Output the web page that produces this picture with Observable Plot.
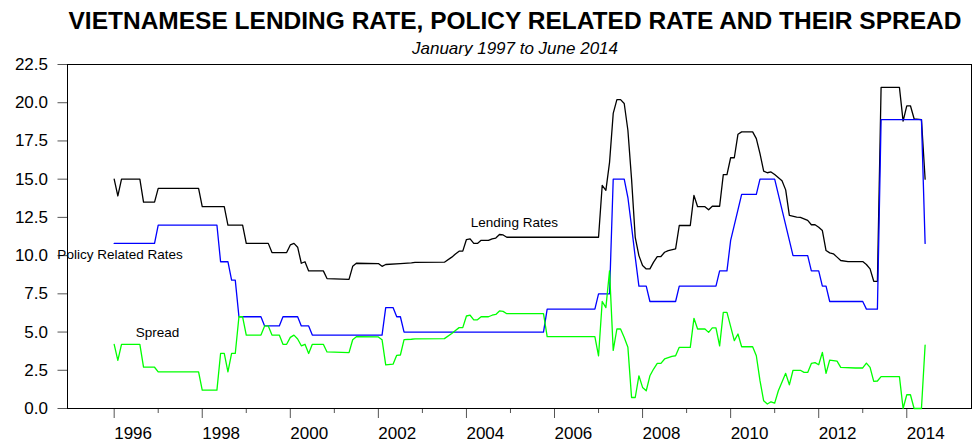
<!DOCTYPE html>
<html>
<head>
<meta charset="utf-8">
<script src="https://cdn.jsdelivr.net/npm/d3@7"></script>
<script src="https://cdn.jsdelivr.net/npm/@observablehq/plot@0.6"></script>
<style>
  body { margin: 0; background: #fff; }
  #wrap { position: relative; width: 972px; height: 442px; font-family: "Liberation Sans", Arial, sans-serif; }
  #title { position: absolute; left: 515px; top: 7px; transform: translateX(-50%); white-space: nowrap; font-weight: bold; font-size: 24.5px; color: #000; }
  #subtitle { position: absolute; left: 515px; top: 39px; transform: translateX(-50%); white-space: nowrap; font-style: italic; font-size: 17px; color: #000; }
  #chart { position: absolute; left: 0; top: 56px; }
</style>
</head>
<body>
<div id="wrap">
  <div id="title">VIETNAMESE LENDING RATE, POLICY RELATED RATE AND THEIR SPREAD</div>
  <div id="subtitle">January 1997 to June 2014</div>
  <div id="chart"></div>
</div>
<script>
// Month index (0 = January 1996 on the axis) and values
const lendingMonths = [0,1,2,7,8,11,12,23,24,30,31,35,36,42,43,47,48,49,50,51,52,53,57,58,64,65,66,72,73,74,78,81,82,90,92,93,94,95,96,97,98,99,100,102,103,104,105,106,107,132,133,134,135,136,137,138,139,140,141,142,143,144,145,146,147,148,149,150,151,153,154,157,158,159,161,162,163,165,166,167,168,169,170,171,174,175,176,177,178,179,180,182,183,184,186,187,189,190,191,192,193,194,195,196,197,198,200,204,205,206,207,208,209,214,215,216,217,218,220,221];
const lendingValues = [15.0,13.9,15.0,15.0,13.5,13.5,14.4,14.4,13.2,13.2,12.0,12.0,10.8,10.8,10.2,10.2,10.7,10.8,10.55,9.5,9.6,9.0,9.0,8.5,8.45,9.3,9.5,9.48,9.3,9.42,9.48,9.53,9.56,9.57,9.9,10.1,10.29,10.29,11.05,11.1,10.8,10.8,11.0,11.0,11.1,11.15,11.38,11.35,11.2,11.2,14.6,14.27,16.1,19.3,20.2,20.2,19.95,18.2,15.0,11.2,10.0,9.35,9.13,9.13,9.57,9.94,9.94,10.22,10.33,10.44,11.97,11.97,13.94,13.2,13.2,13.0,13.23,13.23,15.3,15.3,16.4,16.4,17.94,18.09,18.09,17.65,16.67,15.53,15.42,15.47,15.3,14.9,14.3,12.63,12.52,12.5,12.3,12.02,12.02,11.86,11.64,10.33,10.18,10.12,9.9,9.68,9.61,9.61,9.42,9.13,8.32,8.32,21.0,21.0,18.8,19.8,19.8,18.95,18.9,15.0];

const policyMonths = [0,11,12,28,29,31,32,33,34,40,41,45,46,50,51,53,54,73,74,76,77,78,79,117,118,131,132,135,136,139,140,141,142,143,145,146,153,154,164,165,167,168,169,171,175,176,180,185,189,190,192,193,194,195,204,205,208,209,220,221];
const policyValues = [10.8,10.8,12.0,12.0,9.6,9.6,8.4,8.4,6.0,6.0,5.4,5.4,6.0,6.0,5.4,5.4,4.8,4.8,6.6,6.6,6.0,6.0,5.0,5.0,6.5,6.5,7.5,7.5,15.0,15.0,13.8,11.9,9.9,8.0,8.0,7.0,7.0,8.0,8.0,9.0,9.0,11.0,12.0,14.0,14.0,15.0,15.0,10.0,10.0,9.0,9.0,8.0,8.0,7.0,7.0,6.5,6.5,18.9,18.9,10.8];

const spreadMonths = [0,1,2,7,8,11,12,23,24,28,29,30,31,32,33,34,35,36,40,41,42,43,45,46,47,48,49,50,51,52,53,54,57,58,64,65,66,72,73,74,76,77,78,79,81,82,90,92,93,94,95,96,97,98,99,100,102,103,104,105,106,107,117,118,131,132,133,134,135,136,137,138,139,140,141,142,143,144,145,146,147,148,149,150,152,153,154,157,158,159,161,162,163,164,165,166,167,169,170,171,174,175,176,177,178,179,180,181,183,184,185,187,188,189,190,191,192,193,194,195,197,198,202,204,205,206,207,208,209,214,215,216,217,218,220,221];
const spreadValues = [4.2,3.15,4.2,4.2,2.7,2.7,2.4,2.4,1.2,1.2,3.6,3.6,2.4,3.6,3.6,6.0,6.0,4.8,4.8,5.4,5.4,4.8,4.8,4.2,4.2,4.65,4.8,4.55,4.1,4.2,3.6,4.2,4.2,3.7,3.65,4.5,4.7,4.68,4.5,2.85,2.9,3.48,3.5,4.5,4.53,4.56,4.57,4.9,5.1,5.29,5.29,6.05,6.1,5.8,5.8,6.0,6.0,6.1,6.15,6.38,6.35,6.2,6.2,4.7,4.7,3.45,7.0,6.6,9.0,3.8,5.2,5.2,4.65,4.0,0.72,0.72,2.14,1.38,1.16,2.14,2.58,2.95,2.95,3.24,3.41,3.45,4.0,4.0,5.9,5.2,5.2,4.98,5.27,5.27,4.1,6.29,6.29,4.44,4.87,4.04,4.04,3.45,1.82,0.5,0.29,0.44,0.35,1.16,2.3,1.55,2.5,2.5,2.36,2.36,2.95,3.0,2.86,3.67,2.3,3.17,3.1,2.69,2.65,2.65,2.97,2.69,1.77,1.8,2.08,2.08,0.0,0.9,0.9,0.0,0.0,4.15];

const yTicks = [0, 2.5, 5, 7.5, 10, 12.5, 15, 17.5, 20, 22.5];
const majorYears = [1996, 1998, 2000, 2002, 2004, 2006, 2008, 2010, 2012, 2014];
const minorYears = [1997, 1999, 2001, 2003, 2005, 2007, 2009, 2011, 2013];
const seriesLabels = ["Lending Rates", "Policy Related Rates", "Spread"];

const startYear = 1996;
const toRows = (months, values) => months.map((m, i) => ({x: startYear + m / 12, y: values[i]}));
const lending = toRows(lendingMonths, lendingValues);
const policy = toRows(policyMonths, policyValues);
const spread = toRows(spreadMonths, spreadValues);

const chart = Plot.plot({
  width: 972,
  height: 386,
  marginTop: 8,
  marginBottom: 34,
  marginLeft: 67,
  marginRight: 1,
  style: {fontFamily: "'Liberation Sans', Arial, sans-serif", fontSize: "17px", color: "#000", background: "#fff"},
  x: {domain: [1994.94, 2015.47]},
  y: {domain: [0, 22.5]},
  marks: [
    Plot.axisY({ticks: yTicks, tickSize: 9.5, tickPadding: 10, tickFormat: d3.format(".1f"), label: null, stroke: "#555", fontSize: 17}),
    Plot.axisX({ticks: majorYears, tickSize: 10, tickPadding: 8, tickFormat: d => String(d), textAnchor: "start", label: null, stroke: "#555", fontSize: 17}),
    Plot.axisX({ticks: minorYears, tickSize: 5, tickFormat: () => "", label: null, stroke: "#555"}),
    Plot.frame({stroke: "#000", strokeWidth: 1}),
    Plot.line(lending, {x: "x", y: "y", stroke: "#000000", strokeWidth: 1.3}),
    Plot.line(policy, {x: "x", y: "y", stroke: "#0000ff", strokeWidth: 1.3}),
    Plot.line(spread, {x: "x", y: "y", stroke: "#00ff00", strokeWidth: 1.3}),
    Plot.text([seriesLabels[0]], {x: 2004.1, y: 12.17, text: d => d, textAnchor: "start", fontSize: 13.5, fill: "#000"}),
    Plot.text([seriesLabels[1]], {x: 1994.71, y: 10.07, text: d => d, textAnchor: "start", fontSize: 13.5, fill: "#000"}),
    Plot.text([seriesLabels[2]], {x: 1996.49, y: 4.96, text: d => d, textAnchor: "start", fontSize: 13.5, fill: "#000"})
  ]
});
document.getElementById("chart").appendChild(chart);
</script>
</body>
</html>
